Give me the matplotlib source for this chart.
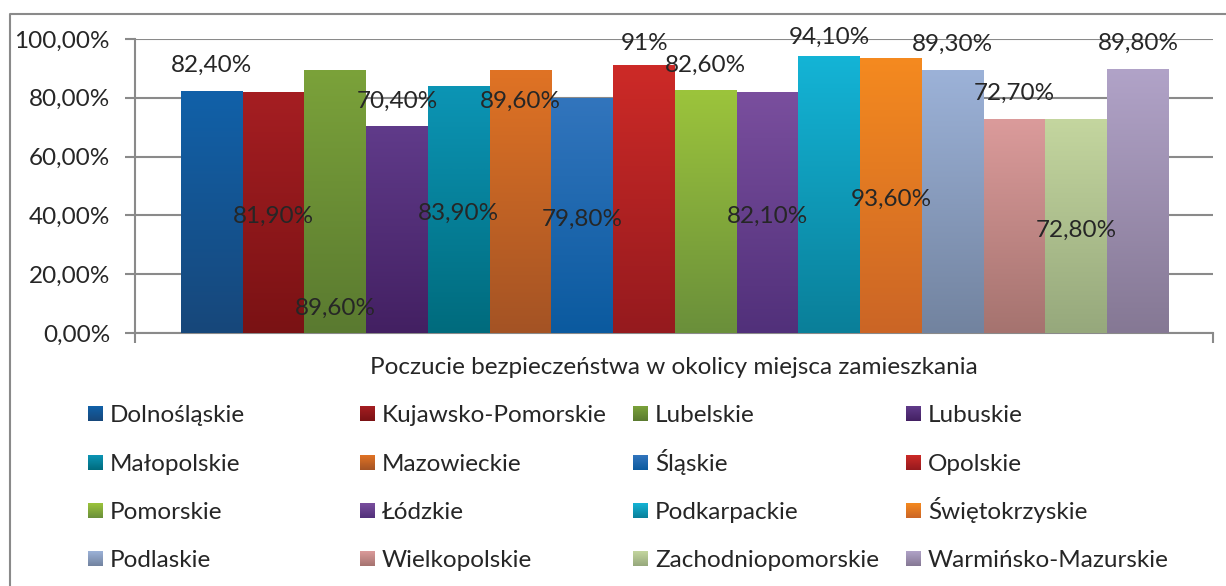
import numpy as np
import matplotlib.pyplot as plt
from matplotlib.colors import LinearSegmentedColormap

# data
regions = ['Dolnośląskie', 'Kujawsko-Pomorskie', 'Lubelskie', 'Lubuskie',
           'Małopolskie', 'Mazowieckie', 'Śląskie', 'Opolskie',
           'Pomorskie', 'Łódzkie', 'Podkarpackie', 'Świętokrzyskie',
           'Podlaskie', 'Wielkopolskie', 'Zachodniopomorskie', 'Warmińsko-Mazurskie']
values = [82.4, 81.9, 89.6, 70.4, 83.9, 89.6, 79.8, 91.0,
          82.6, 82.1, 94.1, 93.6, 89.3, 72.7, 72.8, 89.8]
value_labels = ['82,40%', '81,90%', '89,60%', '70,40%', '83,90%', '89,60%', '79,80%', '91%',
                '82,60%', '82,10%', '94,10%', '93,60%', '89,30%', '72,70%', '72,80%', '89,80%']
yticks = [0, 20, 40, 60, 80, 100]
ytick_labels = ['0,00%', '20,00%', '40,00%', '60,00%', '80,00%', '100,00%']
axis_title = 'Poczucie bezpieczeństwa w okolicy miejsca zamieszkania'

# where each data label sits (the original has them scattered around)
label_y = [91.6, 40.5, 9.2, 79.6, 41.5, 79.6, 39.5, 99.1,
           91.8, 40.5, 101.4, 46.3, 98.8, 82.1, 35.7, 99.1]

top_colors = ['#1161A9', '#A51E22', '#7BA23A', '#603B8A', '#0C95B5', '#E07324', '#3275BD', '#CD2A27',
              '#9CC43C', '#7A4F9E', '#14B4D6', '#F58A1F', '#9CB2D8', '#DB9B9B', '#C4D69F', '#B1A3C8']
bottom_colors = ['#17477A', '#7A1214', '#5A7A30', '#432062', '#006B7D', '#A45325', '#0B5A9F', '#951A1E',
                 '#6A8F3A', '#51307A', '#0A7F99', '#CB6526', '#72839F', '#A5736F', '#96A87C', '#857894']

W, H = 1226, 586
FS = 17.5
TXT = '#262626'
GRAY = '#8a8a8a'

plt.rcParams['font.family'] = ['Lato', 'DejaVu Sans']


def px_box(left, top, right, bottom):
    return [left / W, 1 - bottom / H, (right - left) / W, (bottom - top) / H]


fig = plt.figure(figsize=(W / 100, H / 100), dpi=100)

# overlay in pixel coords for border and legend
ov = fig.add_axes([0, 0, 1, 1])
ov.set_xlim(0, W)
ov.set_ylim(H, 0)
ov.axis('off')
ov.plot([10, 10, W], [H + 5, 14, 14], color=GRAY, lw=1.5)

ax = fig.add_axes(px_box(135, 39, 1213, 333))
ax.patch.set_alpha(0)

x = np.arange(len(regions))
bars = ax.bar(x, values, width=1.0, color=bottom_colors, linewidth=0, zorder=2)

grad = np.linspace(0, 1, 256).reshape(-1, 1)
for bar, top, bot in zip(bars, top_colors, bottom_colors):
    cmap = LinearSegmentedColormap.from_list('g', [bot, top])
    bx, by = bar.get_x(), bar.get_y()
    im = ax.imshow(grad, cmap=cmap, origin='lower', aspect='auto', zorder=3,
                   extent=[bx, bx + bar.get_width(), by, by + bar.get_height()])
    im.set_clip_path(bar)

for xi, ly, lbl in zip(x, label_y, value_labels):
    ax.text(xi, ly, lbl, ha='center', va='center_baseline', fontsize=FS, color=TXT, zorder=5)

xmin, xmax = -1.245, 16.213
ax.set_xlim(xmin, xmax)
ax.set_ylim(0, 100)
ax.set_yticks(yticks)
ax.set_yticklabels(ytick_labels)
ax.set_xticks([xmin, xmax])
ax.set_xticklabels(['', ''])

ax.yaxis.grid(True, color=GRAY, lw=1.5, zorder=0)
ax.set_axisbelow(True)
for s in ['top', 'right']:
    ax.spines[s].set_visible(False)
for s in ['left', 'bottom']:
    ax.spines[s].set_color(GRAY)
    ax.spines[s].set_linewidth(1.5)
ax.tick_params(axis='y', length=7, width=1.5, color=GRAY, labelsize=FS, labelcolor=TXT, pad=11)
ax.tick_params(axis='x', length=7, width=1.5, color=GRAY)

ax.set_xlabel(axis_title, fontsize=FS, color=TXT, labelpad=7)

# legend, row by row, 4 columns
col_x = [88, 360, 633, 906]
row_y = [413, 462, 510, 558]
sq = 15
for i, (name, top, bot) in enumerate(zip(regions, top_colors, bottom_colors)):
    cx = col_x[i % 4]
    cy = row_y[i // 4]
    cmap = LinearSegmentedColormap.from_list('g', [bot, top])
    ov.imshow(grad, cmap=cmap, origin='lower', aspect='auto',
              extent=[cx, cx + sq, cy + sq / 2 + 1, cy - sq / 2 + 1])
    ov.text(cx + 22, cy + 9, name, ha='left', va='baseline', fontsize=FS, color=TXT)

ov.set_xlim(0, W)
ov.set_ylim(H, 0)

fig.savefig('out.png', dpi=100)
